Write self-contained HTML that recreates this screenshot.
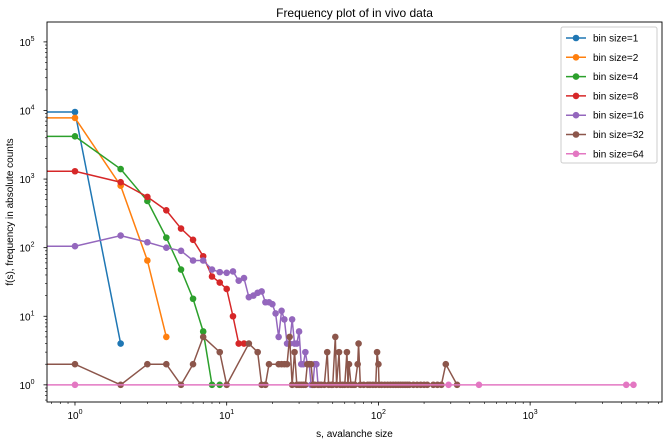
<!DOCTYPE html>
<html><head><meta charset="utf-8"><style>
body{margin:0;background:#fff;font-family:"Liberation Sans","DejaVu Sans",sans-serif}
svg{display:block}
</style></head><body>
<svg id="chart" width="668" height="445" xmlns="http://www.w3.org/2000/svg"></svg>
<script>
const binLabels=["bin size=1","bin size=2","bin size=4","bin size=8","bin size=16","bin size=32","bin size=64"];
const colors=["#1f77b4","#ff7f0e","#2ca02c","#d62728","#9467bd","#8c564b","#e377c2"];
const s1x=[1,2]; const s1y=[9500,4];
const s2x=[1,2,3,4]; const s2y=[7800,800,65,5];
const s3x=[1,2,3,4,5,6,7,8,9]; const s3y=[4200,1400,480,140,48,18,6,1,1];
const s4x=[1,2,3,4,5,6,7,8,9,10,11,12,13]; const s4y=[1300,900,550,350,190,130,75,38,31,25,10,4,4];
const s5x=[1,2,3,4,5,6,7,8,9,10,11,12,13,14,15,16,17,18,19,20,21,22,23,24,25,26,27,28,29,30,31,32,33,34,35,36,37,38,39,40,41];
const s5y=[105,150,120,100,90,65,65,48,44,43,45,33,36,19,20,22,23,16,16,15,11,5,12,9,4,4,9,4,4,6,2,2,3,2,2,1,1,2,2,1,1];
const s6x=[1,2,3,4,5,6,7,9,10,14,16,17,18,19,22,23,24,25,26,27,28,29,30,31,32,33,34,35,36,37,38,40,42,44,46,47,49,50,52,53,55,56,58,60,62,63,64,66,68,70,73,74,76,80,85,88,92,96,98,100,101,105,110,115,120,125,130,135,140,145,150,155,160,170,180,190,200,210,230,245,260,278,330];
const s6y=[2,1,2,2,1,2,5,3,1,4,3,1,1,2,2,2,2,2,5,1,3,1,1,1,1,1,2,2,2,1,1,1,1,1,3,1,1,1,5,1,3,1,1,1,3,1,2,1,1,1,2,4,1,1,1,1,1,1,3,2,1,1,1,1,1,1,1,1,1,1,1,1,1,1,1,1,1,1,1,1,1,2,1];
const s7x=[1,290,460,4300,4800]; const s7y=[1,1,1,1,1];
const xTicks=[1,10,100,1000]; const yTicks=[1,10,100,1000,10000,100000];

const L=47,R=662,T=22,B=402;
const xmin=Math.log10(0.654),xmax=Math.log10(7400);
const ymin=-0.25,ymax=5.29;
const X=v=>L+(Math.log10(v)-xmin)/(xmax-xmin)*(R-L);
const Y=v=>B-(Math.log10(v)-ymin)/(ymax-ymin)*(B-T);
const svg=document.getElementById('chart');
const NS="http://www.w3.org/2000/svg";
function mk(tag,attrs,parent){const e=document.createElementNS(NS,tag);for(const k in attrs)e.setAttribute(k,attrs[k]);(parent||svg).appendChild(e);return e;}

const defs=mk('defs',{});
const cp=mk('clipPath',{id:'clip'},defs);
mk('rect',{x:L,y:T,width:R-L,height:B-T},cp);

const series=[[s1x,s1y],[s2x,s2y],[s3x,s3y],[s4x,s4y],[s5x,s5y],[s6x,s6y],[s7x,s7y]];
const plot=mk('g',{'clip-path':'url(#clip)'});


series.forEach((s,i)=>{
  const g=mk('g',{},plot);
  
  
  let d='M'+(L-5)+','+Y(s[1][0]);
  s[0].forEach((x,j)=>{d+=' L'+X(x).toFixed(2)+','+Y(s[1][j]).toFixed(2);});
  mk('path',{d:d,fill:'none',stroke:colors[i],'stroke-width':1.5},g);
  s[0].forEach((x,j)=>{
    const c=mk('circle',{cx:X(x).toFixed(2),cy:Y(s[1][j]).toFixed(2),r:3.3,fill:colors[i]},g);
    
    
  });
});

// axes frame
const frame=mk('rect',{x:L,y:T,width:R-L,height:B-T,fill:'none',stroke:'#000','stroke-width':0.9});



// x ticks
for(let d=-1;d<=3;d++){for(let m=1;m<10;m++){const v=m*10**d;const px=X(v);if(px<L||px>R)continue;
  mk('line',{x1:px,x2:px,y1:B,y2:B+(m==1?3.5:2),stroke:'#000','stroke-width':m==1?0.8:0.6});}}
xTicks.forEach(v=>{const t=mk('text',{x:X(v),y:B+17,'text-anchor':'middle','font-size':10});
  
  
  t.innerHTML='10<tspan dy="-5" font-size="7">'+Math.log10(v)+'</tspan>';});
// y ticks
for(let d=-1;d<=5;d++){for(let m=1;m<10;m++){const v=m*10**d;const py=Y(v);if(py<T||py>B)continue;
  mk('line',{x1:L,x2:L-(m==1?3.5:2),y1:py,y2:py,stroke:'#000','stroke-width':m==1?0.8:0.6});}}
yTicks.forEach(v=>{const t=mk('text',{x:L-20,y:Y(v)+4,'text-anchor':'middle','font-size':10});
  
  
  t.innerHTML='10<tspan dy="-5" font-size="7">'+Math.log10(v)+'</tspan>';});

const title=mk('text',{x:(L+R)/2,y:17,'text-anchor':'middle','font-size':12});
title.textContent='Frequency plot of in vivo data';


const xl=mk('text',{x:(L+R)/2,y:437,'text-anchor':'middle','font-size':10});
xl.textContent='s, avalanche size';


const yl=mk('text',{x:13,y:(T+B)/2,'text-anchor':'middle','font-size':10,transform:'rotate(-90 13 '+((T+B)/2)+')'});
yl.textContent='f(s), frequency in absolute counts';



// legend
const lg=mk('g',{});


mk('rect',{x:561,y:27,width:96,height:136,rx:2,fill:'#fff','fill-opacity':0.8,stroke:'#ccc'},lg);
binLabels.forEach((lab,i)=>{
  const y=38+i*19.3;
  const e=mk('g',{},lg);
  
  
  mk('line',{x1:566,x2:586,y1:y,y2:y,stroke:colors[i],'stroke-width':1.5},e);
  mk('circle',{cx:576,cy:y,r:3.3,fill:colors[i]},e);
  const t=mk('text',{x:593,y:y+3.5,'font-size':10},e);
  t.textContent=lab;
});
</script>
</body></html>
